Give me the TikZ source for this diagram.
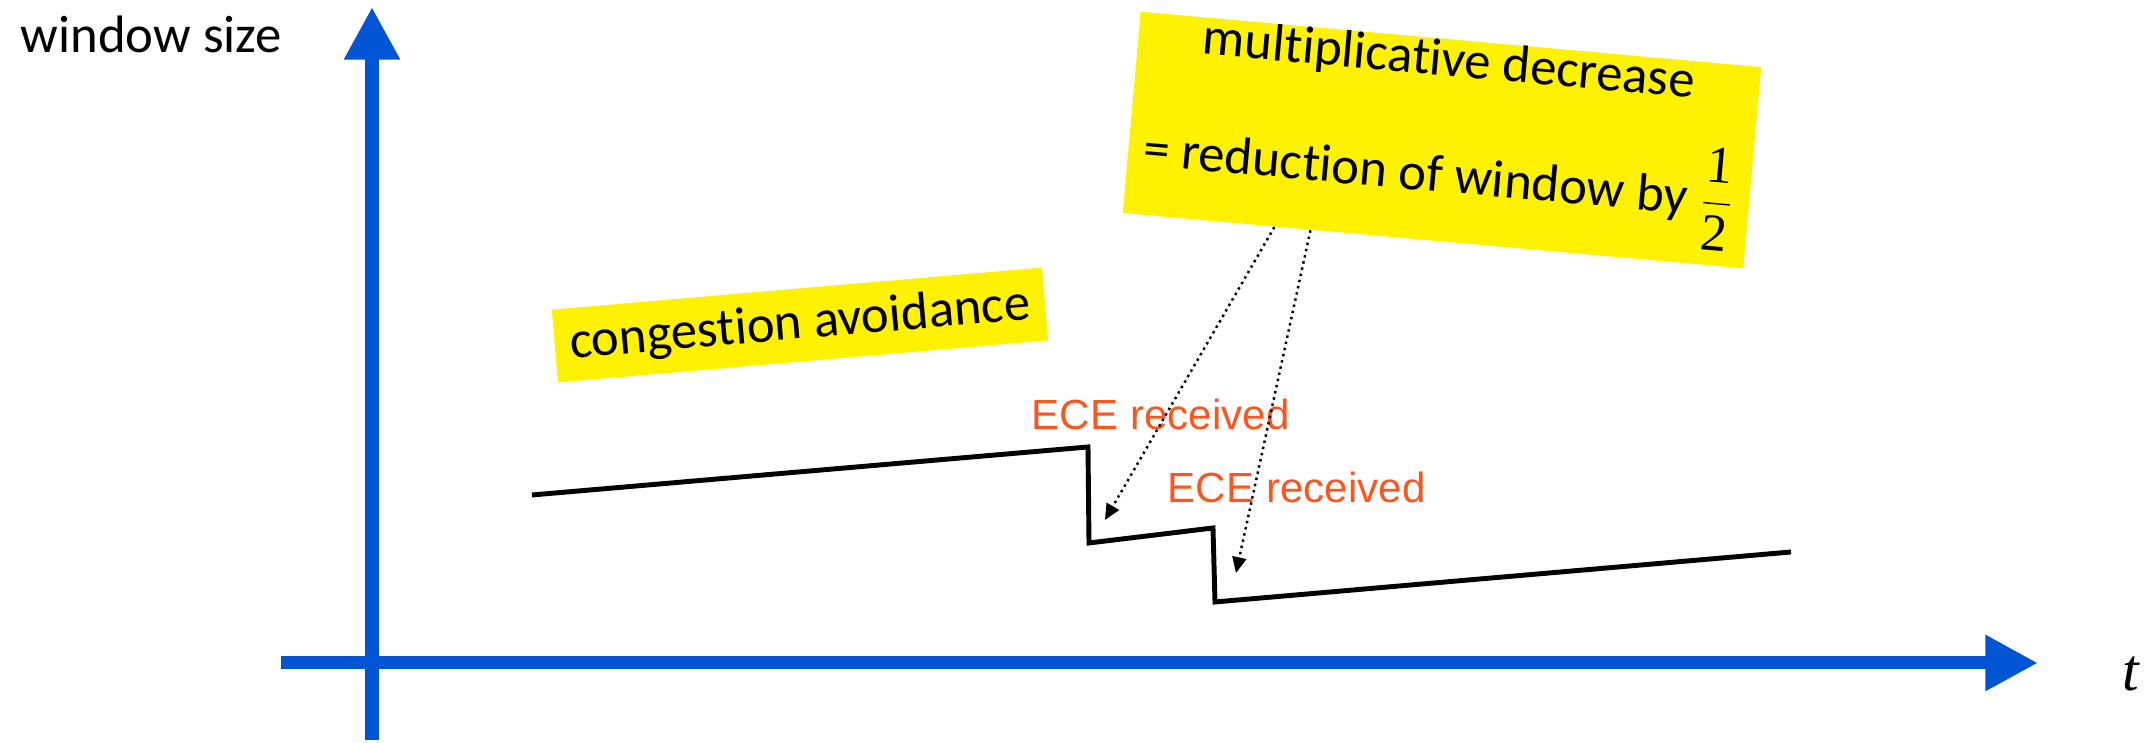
\documentclass[tikz,border=0pt]{standalone}
\usepackage{fontspec}
\setmainfont{Carlito}[Ligatures=NoCommon]
\newfontfamily\arialfont{Liberation Sans}
\newfontfamily\timesfont{Liberation Serif}
\usetikzlibrary{arrows.meta,calc}
\definecolor{axisblue}{RGB}{0,85,213}
\definecolor{eceorange}{RGB}{252,86,30}

\begin{document}
\begin{tikzpicture}
	[inner sep=0pt,
	axis/.style	= {draw=axisblue, line width=3.7pt, -{Triangle[length=15pt,width=15pt]}},
	window/.style	= {draw, line width=1.4pt},
	note/.style	= {fill=yellow, font=\fontsize{15}{18}\selectfont, align=center},
	ece/.style	= {text=eceorange, font=\arialfont\fontsize{12}{14}\selectfont, anchor=base west},
	hint/.style	= {dash pattern=on 0.7pt off 1.1pt, line width=0.7pt, -{Triangle[length=4.5pt,width=4pt]}}]
	
	\useasboundingbox (0,0) rectangle (21.49,7.43);
	
	\coordinate (x0) at (2.81, 0.80);
	\coordinate (x1) at (20.38, 0.80);
	\coordinate (y0) at (3.72, 0.03);
	\coordinate (y1) at (3.72, 7.36);
	
	\draw [axis] (x0) -- (x1);
	\draw [axis] (y0) -- (y1);
	
	\node at (0.20, 6.90)	[anchor=base west, font=\fontsize{15}{18}\selectfont]	(ylab)	{window size};
	\node at (21.31, 0.69)	[font=\timesfont\itshape\fontsize{17}{20}\selectfont]	(tlab)	{t};
	
	\coordinate (w1) at (5.32, 2.48);
	\coordinate (w2) at (10.88, 2.96);
	\coordinate (w3) at (10.89, 2.00);
	\coordinate (w4) at (12.13, 2.15);
	\coordinate (w5) at (12.15, 1.41);
	\coordinate (w6) at (17.91, 1.91);
	
	\draw [window] (w1) -- (w2) -- (w3) -- (w4) -- (w5) -- (w6);
	
	\node at (10.31, 3.13)	[ece]	(ece1)	{ECE received};
	\node at (11.67, 2.40)	[ece]	(ece2)	{ECE received};
	
	\node at (8.00, 4.18)	[note, rotate=4.9, minimum width=4.92cm, minimum height=0.73cm]	(ca)	{congestion avoidance};
	\node at (14.42, 6.03)	[note, rotate=-5.1, minimum width=6.23cm, minimum height=1.98cm]	(md)
		{multiplicative decrease\\[10pt]
		= reduction of window by $\displaystyle\frac{\hbox{\timesfont 1}}{\hbox{\timesfont 2}}$\rule[-14pt]{0pt}{0pt}};
	
	\coordinate (d1) at (11.05, 2.23);
	\coordinate (d2) at (12.36, 1.70);
	
	\draw [hint] ($(md.south west)!0.245!(md.south east)$) -- (d1);
	\draw [hint] ($(md.south west)!0.303!(md.south east)$) -- (d2);
	
\end{tikzpicture}
\end{document}
